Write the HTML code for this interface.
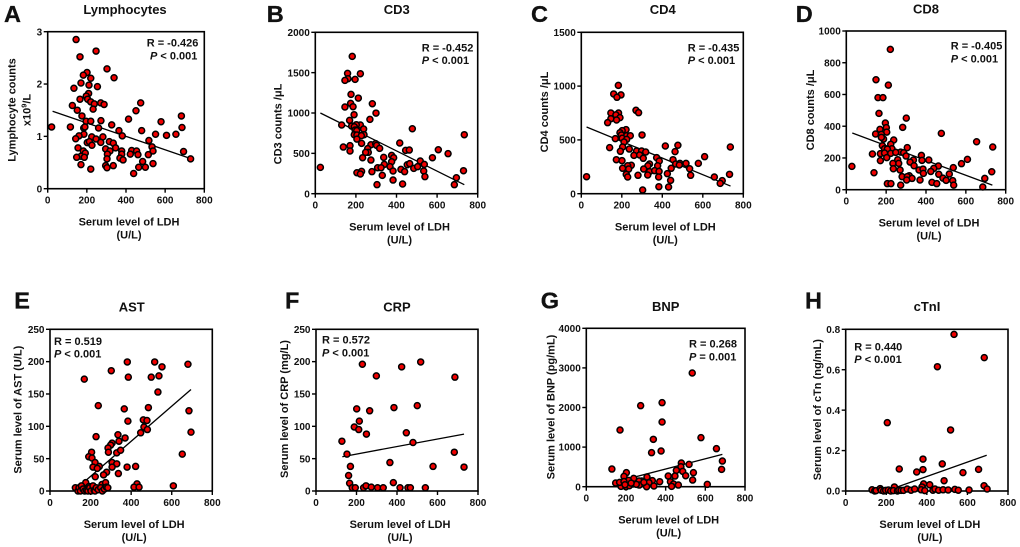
<!DOCTYPE html>
<html lang="en">
<head>
<meta charset="utf-8">
<title>LDH correlation scatter plots</title>
<style>
html,body{margin:0;padding:0;background:#fff;width:1020px;height:547px;overflow:hidden}
svg{display:block}
text{font-family:"Liberation Sans",Arial,sans-serif;font-weight:bold;fill:#111}
</style>
</head>
<body>
<svg id="figure" xmlns="http://www.w3.org/2000/svg" width="1020" height="547" viewBox="0 0 1020 547"></svg>
<script>
const ldhTicks = [0, 200, 400, 600, 800];

const lymphTicks = ["0", "1", "2", "3"];
const lymphLdh = [145,247,165,303,339,201,182,220,170,211,254,134,209,197,165,204,220,475,271,238,288,126,232,151,451,175,683,413,196,220,272,579,327,20,116,184,260,686,190,364,480,185,551,607,655,381,160,143,225,282,247,517,202,213,271,315,335,226,155,347,296,533,538,694,429,454,318,378,182,305,378,192,422,461,514,170,148,187,303,369,385,485,170,296,335,538,465,499,303,220,730,439];
const lymphValues = [2.85,2.63,2.52,2.29,2.12,2.22,2.17,2.11,2.02,1.98,1.95,1.92,1.82,1.77,1.71,1.71,1.66,1.64,1.64,1.62,1.61,1.59,1.52,1.50,1.49,1.39,1.39,1.33,1.29,1.29,1.30,1.28,1.22,1.18,1.18,1.16,1.16,1.17,1.18,1.11,1.11,1.04,1.04,1.02,1.04,1.01,1.01,0.955,0.99,0.99,0.95,0.92,0.88,0.90,0.885,0.90,0.87,0.83,0.78,0.78,0.76,0.80,0.72,0.71,0.73,0.72,0.72,0.72,0.72,0.66,0.66,0.68,0.66,0.65,0.65,0.62,0.60,0.60,0.57,0.585,0.55,0.52,0.46,0.44,0.44,0.48,0.41,0.41,0.40,0.375,0.57,0.29];
const lymphTrendX = [25, 735];
const lymphTrendY = [1.48, 0.57];

const cd3Ticks = ["0", "500", "1000", "1500", "2000"];
const cd3Ldh = [182,159,222,161,146,196,176,212,281,174,186,146,299,191,269,169,130,222,202,179,192,238,478,196,204,192,240,205,227,205,734,228,416,274,297,302,317,171,138,171,258,261,248,445,463,606,654,577,233,337,376,386,274,517,376,340,368,453,465,537,485,504,307,324,383,422,440,205,228,222,279,330,534,540,730,695,685,304,383,430,25];
const cd3Values = [1702,1491,1487,1425,1404,1417,1231,1185,1115,1119,1078,1074,999,979,921,909,851,851,855,838,830,801,805,789,781,731,731,727,719,677,731,624,628,607,620,599,562,595,578,529,558,512,512,537,541,545,496,446,446,450,475,446,417,405,396,363,335,359,372,363,314,335,322,322,281,301,273,260,277,244,273,227,281,211,285,198,112,112,169,120,326];
const cd3TrendX = [25, 734];
const cd3TrendY = [1000, 112];

const cd4Ticks = ["0", "500", "1000", "1500"];
const cd4Ldh = [183,160,196,176,270,283,146,184,171,146,191,174,130,300,221,202,191,168,198,224,242,202,224,211,415,477,204,140,237,193,273,298,318,463,736,260,288,609,306,372,173,201,385,453,337,578,377,466,487,517,247,229,329,484,204,308,444,535,337,362,384,234,425,222,540,732,280,328,382,229,657,26,696,441,686,383,431,303];
const cd4Values = [1007,927,918,896,775,753,750,750,732,697,707,685,660,546,595,586,567,512,546,539,539,515,505,480,443,450,434,428,415,394,397,397,387,391,434,356,360,344,329,335,316,307,304,316,276,282,260,276,282,282,264,260,260,267,236,229,236,232,205,214,208,229,186,180,171,180,171,174,155,155,155,158,121,124,96,65,62,34];
const cd4TrendX = [26, 737];
const cd4TrendY = [620, 71];

const cd8Ticks = ["0", "200", "400", "600", "800", "1000"];
const cd8Ldh = [221,149,211,159,184,164,301,196,283,201,169,477,203,147,176,238,654,187,176,735,223,181,306,229,192,206,273,131,171,192,223,248,288,300,377,203,608,578,258,414,337,380,171,320,263,234,340,462,236,439,537,270,365,385,424,730,139,387,464,517,316,280,306,330,485,501,695,534,370,303,430,454,206,224,273,539,685,28];
const cd8Values = [884,693,659,580,580,481,451,420,393,391,380,355,363,351,349,313,302,319,330,269,286,277,265,258,258,256,237,225,227,231,229,235,233,212,216,202,191,164,189,187,187,185,183,174,166,166,151,149,132,134,139,124,124,130,115,113,107,103,97,99,88,82,82,71,73,59,71,57,61,61,46,38,38,38,29,29,17,147];
const cd8TrendX = [30, 733];
const cd8TrendY = [357, 29];

const astTicks = ["0", "50", "100", "150", "200", "250"];
const astLdh = [381,516,552,680,302,169,386,499,537,532,238,366,485,685,460,478,384,463,480,447,695,227,335,370,340,306,299,286,205,329,348,288,191,207,652,222,306,329,243,212,233,306,380,422,279,337,264,223,176,429,256,608,274,414,439,125,138,143,150,155,163,171,180,187,192,196,202,212,218,222,228,238,250,258,268,278,285];
const astValues = [199.5,199.5,192,196,186,173,176,176,178,153,132,127,129,124,110,109,108,99,95,90,91,84,87,82,77,74,71,66.5,60,59,63,60,53,51,57,44,44,42,38,37,35,37,37,38,29,27,25,22,13,11,10,8,13,6,6,5,0,5,0,8,3,0,1,0,7,5,0,8,1,0,5,2,5,0,3,6,5];
const astTrendX = [135, 695];
const astTrendY = [5, 157];

const crpTicks = ["0", "50", "100", "150", "200", "250"];
const crpLdh = [229,423,517,686,298,201,265,385,500,214,189,211,249,446,128,479,683,153,365,578,731,170,161,166,382,179,194,235,247,273,304,332,415,454,466,540];
const crpValues = [196,192,199.5,176,178,127,124,129,132,108,99,95,88,90,77,75,60,57,44,38,37,38,24,12,13,5,5,5,8,6,5,5,5,5,5,5];
const crpTrendX = [130, 731];
const crpTrendY = [53, 88];

const bnpTicks = ["0", "1000", "2000", "3000", "4000"];
const bnpLdh = [534,274,382,382,170,338,578,329,377,656,129,686,682,518,479,477,454,486,540,202,501,447,413,536,190,239,306,610,424,440,464,430,279,213,333,370,148,266,316,234,267,341,175,200,304,217,168,190,252,290,195,226];
const bnpValues = [2871,2046,2122,1634,1431,1196,1238,859,901,960,446,648,438,564,598,505,412,387,354,354,278,269,269,168,261,210,244,59,126,67,42,8,143,160,152,126,93,143,101,67,42,17,8,0,0,25,110,130,60,110,50,90];
const bnpTrendX = [237, 686];
const bnpTrendY = [236, 817];

const ctnTicks = ["0.0", "0.2", "0.4", "0.6", "0.8"];
const ctnLdh = [534,683,452,205,517,381,264,381,350,476,655,578,485,384,414,682,376,240,697,608,130,143,150,170,175,187,197,210,222,235,255,262,273,285,303,322,340,372,390,430,440,458,480,505,538,555];
const ctnValues = [0.775,0.66,0.615,0.338,0.302,0.158,0.109,0.106,0.094,0.134,0.107,0.091,0.051,0.035,0.031,0.026,0.02,0.02,0.01,0.005,0.006,0,0.002,0.012,0.004,0,0.003,0.005,0,0.002,0,0.004,0.003,0.003,0.01,0.004,0.01,0.006,0.002,0.004,0.01,0.004,0.006,0.005,0.008,0.004];
const ctnTrendX = [240, 695];
const ctnTrendY = [0.015, 0.177];

const NS = "http://www.w3.org/2000/svg";
const figure = document.getElementById("figure");

function make(parent, tag, attrs, content) {
  const node = document.createElementNS(NS, tag);
  for (const key in attrs) node.setAttribute(key, attrs[key]);
  if (content !== undefined) node.textContent = content;
  parent.appendChild(node);
  return node;
}

function drawPanel(p) {
  const g = make(figure, "g", {});
  
  

  const yMax = p.yMax;
  const sx = v => p.left + (v / 800) * (p.right - p.left);
  const sy = v => p.bottom - (v / yMax) * (p.bottom - p.top);

  const letter = make(g, "text", {x: p.letter[0], y: p.letter[1], "font-size": 23.5, stroke: "#111", "stroke-width": 0.3}, p.letterText);
  
  

  const title = make(g, "text", {x: p.title[0], y: p.title[1], "font-size": 13, "text-anchor": "middle"}, p.titleText);
  
  

  const trend = make(g, "line", {x1: sx(p.trendX[0]), y1: sy(p.trendY[0]), x2: sx(p.trendX[1]), y2: sy(p.trendY[1]), stroke: "#000", "stroke-width": 1.3});
  
  

  const frame = make(g, "rect", {x: p.left, y: p.top, width: p.right - p.left, height: p.bottom - p.top, fill: "none", stroke: "#000", "stroke-width": 1.6});
  
  

  ldhTicks.forEach(t => {
    const tick = make(g, "line", {x1: sx(t), x2: sx(t), y1: p.bottom, y2: p.bottom + 4, stroke: "#000", "stroke-width": 1.4});
    
    
    const label = make(g, "text", {x: sx(t), y: p.bottom + 15, "font-size": 10, "text-anchor": "middle"}, String(t));
    
    
  });

  p.yTicks.forEach(t => {
    const v = parseFloat(t);
    const tick = make(g, "line", {x1: p.left - 4, x2: p.left, y1: sy(v), y2: sy(v), stroke: "#000", "stroke-width": 1.4});
    
    
    const label = make(g, "text", {x: p.left - 5.5, y: sy(v) + 3.6, "font-size": 10, "text-anchor": "end"}, t);
    
    
  });

  p.xs.forEach((x, i) => {
    const dot = make(g, "circle", {cx: sx(x), cy: sy(p.ys[i]), r: 3, fill: "#f00000", stroke: "#000", "stroke-width": 1.5});
    
    
  });

  const cx = (p.left + p.right) / 2 + 3;
  const xTitle = make(g, "text", {x: cx, y: p.bottom + 37, "font-size": 11, "text-anchor": "middle"}, "Serum level of LDH");
  
  
  const xUnit = make(g, "text", {x: cx, y: p.bottom + 50, "font-size": 11, "text-anchor": "middle"}, "(U/L)");
  
  

  const yTitle = make(g, "text", {transform: "translate(" + p.yLabel[0] + "," + p.yLabel[1] + ") rotate(-90)", "font-size": 11, "text-anchor": "middle"}, p.yText);
  
  

  if (p.yLabel2) {
    const yUnit = make(g, "text", {transform: "translate(" + p.yLabel2[0] + "," + p.yLabel2[1] + ") rotate(-90)", "font-size": 11, "text-anchor": "middle"});
    
    
    make(yUnit, "tspan", {}, "x10");
    make(yUnit, "tspan", {dy: -4, "font-size": 7.5}, "9");
    make(yUnit, "tspan", {dy: 4}, "/L");
  }

  const rText = make(g, "text", {x: p.note[0], y: p.note[1], "font-size": 11}, p.rText);
  
  

  const pText = make(g, "text", {x: p.note[2], y: p.note[3], "font-size": 11});
  
  
  make(pText, "tspan", {"font-style": "italic"}, "P");
  make(pText, "tspan", {}, " " + p.pText);
}

drawPanel({slug: "lymphocytes", letterText: "A", titleText: "Lymphocytes", left: 47.7, right: 204.3, top: 31.7, bottom: 188.7, yMax: 3,
  yTicks: lymphTicks, xs: lymphLdh, ys: lymphValues, trendX: lymphTrendX, trendY: lymphTrendY,
  letter: [4, 22], title: [125, 14], yText: "Lymphocyte counts", yLabel: [15.5, 110], yLabel2: [30.5, 110],
  rText: "R = -0.426", pText: "< 0.001", note: [146.7, 46.7, 150, 59.3]});

drawPanel({slug: "cd3", letterText: "B", titleText: "CD3", left: 315.3, right: 477.7, top: 32.3, bottom: 193.7, yMax: 2000,
  yTicks: cd3Ticks, xs: cd3Ldh, ys: cd3Values, trendX: cd3TrendX, trendY: cd3TrendY,
  letter: [266.7, 22], title: [396.7, 14], yText: "CD3 counts /μL", yLabel: [281.7, 124],
  rText: "R = -0.452", pText: "< 0.001", note: [421.7, 51.3, 421.7, 64]});

drawPanel({slug: "cd4", letterText: "C", titleText: "CD4", left: 581.3, right: 743.3, top: 32.3, bottom: 193.7, yMax: 1500,
  yTicks: cd4Ticks, xs: cd4Ldh, ys: cd4Values, trendX: cd4TrendX, trendY: cd4TrendY,
  letter: [531, 22], title: [662.7, 14], yText: "CD4 counts /μL", yLabel: [548, 112],
  rText: "R = -0.435", pText: "< 0.001", note: [687.7, 51.3, 687.7, 64]});

drawPanel({slug: "cd8", letterText: "D", titleText: "CD8", left: 846.3, right: 1005.7, top: 31, bottom: 189.7, yMax: 1000,
  yTicks: cd8Ticks, xs: cd8Ldh, ys: cd8Values, trendX: cd8TrendX, trendY: cd8TrendY,
  letter: [795.7, 22], title: [926, 13.5], yText: "CD8 counts /μL", yLabel: [814, 110],
  rText: "R = -0.405", pText: "< 0.001", note: [950.7, 49.7, 950.7, 62.3]});

drawPanel({slug: "ast", letterText: "E", titleText: "AST", left: 50, right: 212.3, top: 329.3, bottom: 491, yMax: 250,
  yTicks: astTicks, xs: astLdh, ys: astValues, trendX: astTrendX, trendY: astTrendY,
  letter: [14.3, 308.3], title: [131.7, 311.3], yText: "Serum level of AST (U/L)", yLabel: [21.7, 409.7],
  rText: "R = 0.519", pText: "< 0.001", note: [54, 345, 54, 357.7]});

drawPanel({slug: "crp", letterText: "F", titleText: "CRP", left: 316, right: 478, top: 329.3, bottom: 491, yMax: 250,
  yTicks: crpTicks, xs: crpLdh, ys: crpValues, trendX: crpTrendX, trendY: crpTrendY,
  letter: [285, 308.3], title: [397, 311.3], yText: "Serum level of CRP (mg/L)", yLabel: [288, 409],
  rText: "R = 0.572", pText: "< 0.001", note: [322, 343.7, 322, 356.3]});

drawPanel({slug: "bnp", letterText: "G", titleText: "BNP", left: 586.3, right: 745, top: 328.3, bottom: 486.7, yMax: 4000,
  yTicks: bnpTicks, xs: bnpLdh, ys: bnpValues, trendX: bnpTrendX, trendY: bnpTrendY,
  letter: [540.7, 308.7], title: [665.7, 311], yText: "Serum level of BNP (pg/mL)", yLabel: [554.3, 407],
  rText: "R = 0.268", pText: "= 0.001", note: [689, 347.7, 689, 360.3]});

drawPanel({slug: "ctni", letterText: "H", titleText: "cTnI", left: 845.7, right: 1008, top: 329.3, bottom: 491, yMax: 0.8,
  yTicks: ctnTicks, xs: ctnLdh, ys: ctnValues, trendX: ctnTrendX, trendY: ctnTrendY,
  letter: [805, 308.3], title: [927, 311], yText: "Serum level of cTn (ng/mL)", yLabel: [821, 409.7],
  rText: "R = 0.440", pText: "< 0.001", note: [854.3, 350.3, 854.3, 363]});
</script>
</body>
</html>
